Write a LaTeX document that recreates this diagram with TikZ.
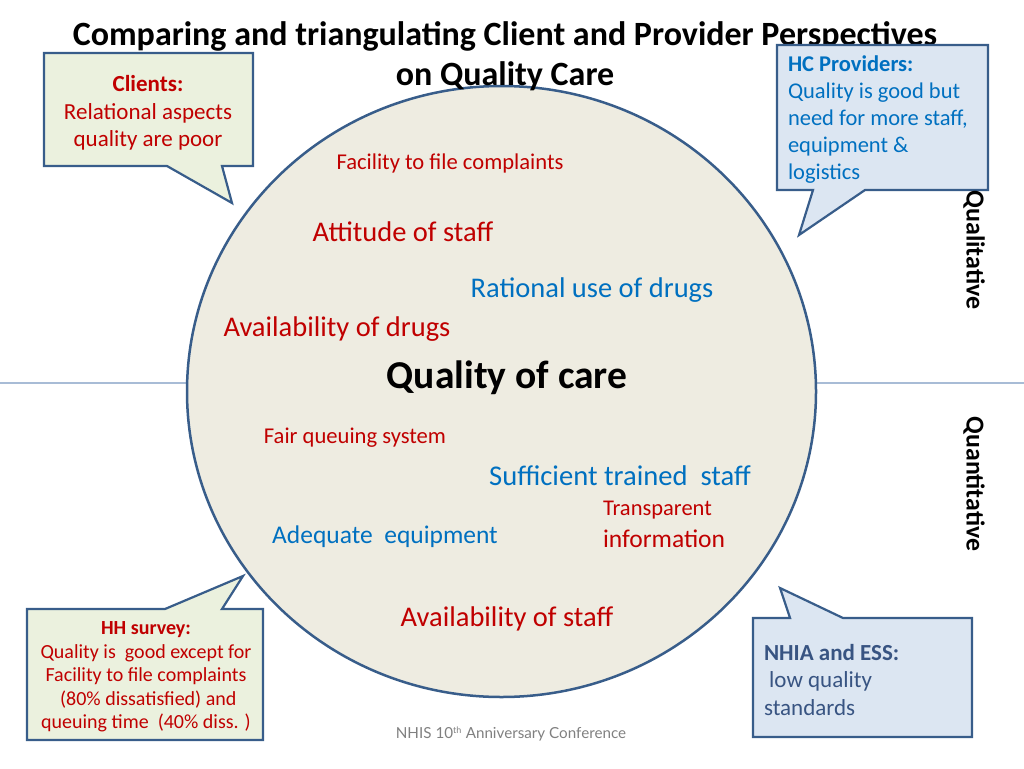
\documentclass[tikz,border=0pt]{standalone}
\usepackage{fontspec}
\setmainfont{Carlito}
\newfontfamily\latofont{Lato}
\definecolor{dred}{RGB}{192,0,0}
\definecolor{mblue}{RGB}{0,112,192}
\definecolor{edgeblue}{RGB}{56,93,138}
\definecolor{circfill}{RGB}{238,236,225}
\definecolor{greenfill}{RGB}{235,241,222}
\definecolor{bluefill}{RGB}{220,230,242}
\definecolor{slateblue}{RGB}{56,84,130}
\definecolor{axisline}{RGB}{168,188,214}
\definecolor{footgray}{RGB}{128,128,128}
\newcommand{\fs}[2]{\fontsize{#1}{#2}\selectfont}
\tikzset{
  callout/.style={draw=edgeblue, line width=2.2pt, line join=miter},
  lbl/.style={inner sep=0pt, outer sep=0pt},
}
\begin{document}
\begin{tikzpicture}[x=1pt,y=-1pt]
\useasboundingbox (0,0) rectangle (1024,768);
% axis line
\draw[axisline, line width=1.5pt] (0,383) -- (1024,383);
% circle
\draw[edgeblue, fill=circfill, line width=2.5pt] (501.5,391.5) ellipse [x radius=314.5, y radius=305.5];
% title
\node[lbl, font=\fs{34}{40}\bfseries, align=center] (title) at (505,56) {Comparing and triangulating Client and Provider Perspectives\\on Quality Care};
% callouts
\draw[callout, fill=greenfill] (44,53) -- (253,53) -- (253,166) -- (222,166) -- (232,203) -- (167,166) -- (44,166) -- cycle;
\draw[callout, fill=bluefill] (777,45) -- (988,45) -- (988,190) -- (865,190) -- (799,235) -- (813,190) -- (777,190) -- cycle;
\draw[callout, fill=greenfill] (27,609) -- (165,609) -- (243,576) -- (222,609) -- (263,609) -- (263,740) -- (27,740) -- cycle;
\draw[callout, fill=bluefill] (753,618) -- (790,618) -- (780,588) -- (843,618) -- (972,618) -- (972,737) -- (753,737) -- cycle;
% callout texts
\node[lbl, font=\fs{23}{27.5}, text=dred, align=center] (clients) at (148,113) {\textbf{Clients:}\\Relational aspects\\quality are poor};
\node[lbl, font=\fs{22.5}{27}, text=mblue, align=left, anchor=west] (hcp) at (788,120) {\textbf{HC Providers:}\\Quality is good but\\need for more staff,\\equipment \&\\logistics};
\node[lbl, font=\fs{20}{23.5}, text=dred, align=center] (hh) at (146,677) {\textbf{HH survey:}\\Quality is\ \ good except for\\Facility to file complaints\\\ (80\% dissatisfied) and\\queuing time\ \ (40\% diss. )};
\node[lbl, font=\fs{23}{27.5}, text=slateblue, align=left, anchor=west] (nhia) at (764,680) {\textbf{NHIA and ESS:}\\\ low quality\\standards};
% circle texts
\node[lbl, font=\fs{22.6}{27}, text=dred] (fac) at (450,163) {Facility to file complaints};
\node[lbl, font=\fs{28.5}{33}, text=dred] (att) at (403,232) {Attitude of staff};
\node[lbl, font=\fs{28.5}{33}, text=mblue] (rat) at (592,290) {Rational use of drugs};
\node[lbl, font=\fs{28.5}{33}, text=dred] (avd) at (337,329) {Availability of drugs};
\node[lbl, font=\fs{39.5}{45}\bfseries] (qoc) at (507,378) {Quality of care};
\node[lbl, font=\fs{22.6}{27}, text=dred] (fair) at (355,438) {Fair queuing system};
\node[lbl, font=\fs{28.6}{33}, text=mblue] (suf) at (620,476) {Sufficient trained\ \ staff};
\node[lbl, font=\fs{22.5}{27}, text=dred, anchor=west] (tra) at (603,510) {Transparent};
\node[lbl, font=\fs{25.5}{30}, text=dred, anchor=west] (inf) at (603,539) {information};
\node[lbl, font=\fs{25.5}{30}, text=mblue] (adq) at (385,537) {Adequate\ \ equipment};
\node[lbl, font=\fs{28.5}{33}, text=dred] (avs) at (507,619) {Availability of staff};
% side labels
\node[lbl, font=\fs{26}{30}\bfseries, rotate=-90] (qual) at (974,250) {Qualitative};
\node[lbl, font=\fs{25.8}{30}\bfseries, rotate=-90] (quan) at (974,484) {Quantitative};
% footer
\node[lbl, font=\latofont\fs{15.2}{18}, text=footgray] (foot) at (511,734) {NHIS 10\textsuperscript{\fontsize{9}{10}\selectfont th} Anniversary Conference};
\end{tikzpicture}
\end{document}
